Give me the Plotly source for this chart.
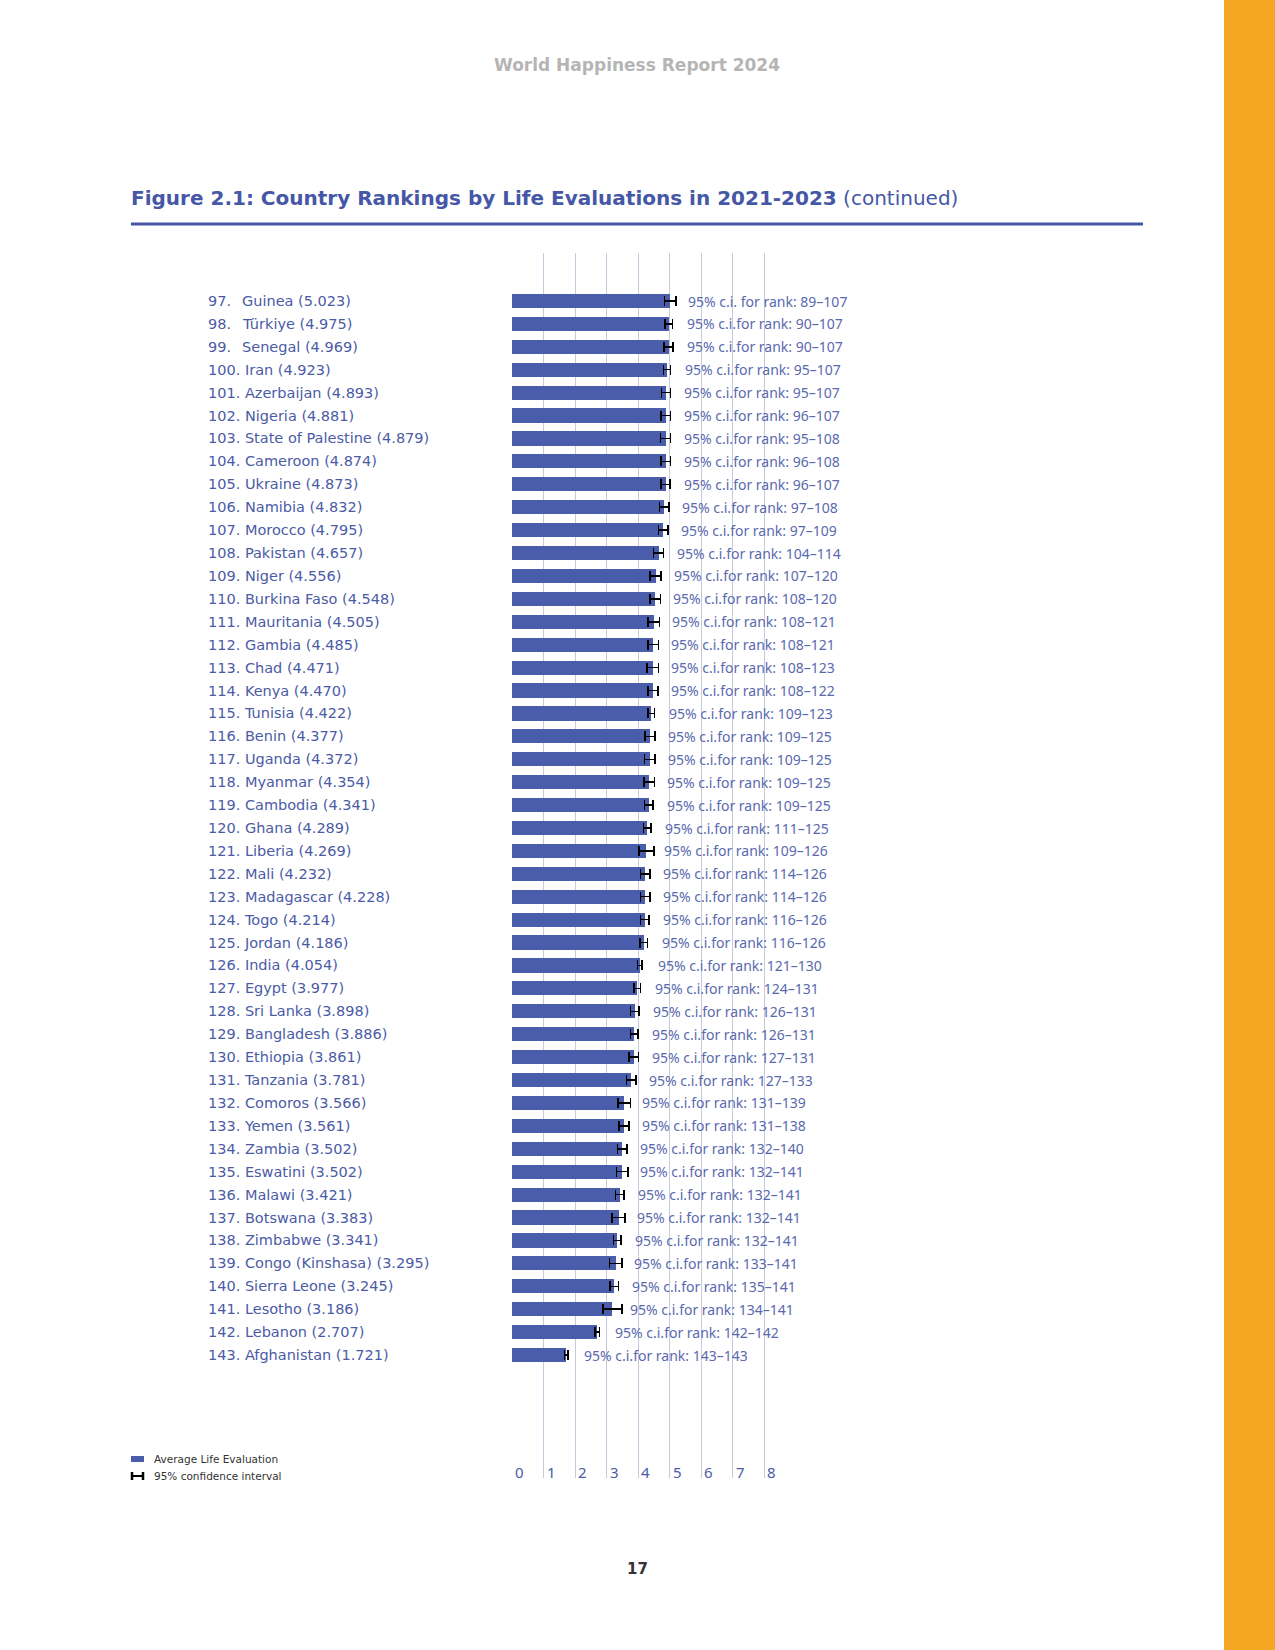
import plotly.graph_objects as go

ranks = list(range(97, 144))
countries = [
    "Guinea", "Türkiye", "Senegal", "Iran", "Azerbaijan", "Nigeria",
    "State of Palestine", "Cameroon", "Ukraine", "Namibia", "Morocco",
    "Pakistan", "Niger", "Burkina Faso", "Mauritania", "Gambia", "Chad",
    "Kenya", "Tunisia", "Benin", "Uganda", "Myanmar", "Cambodia", "Ghana",
    "Liberia", "Mali", "Madagascar", "Togo", "Jordan", "India", "Egypt",
    "Sri Lanka", "Bangladesh", "Ethiopia", "Tanzania", "Comoros", "Yemen",
    "Zambia", "Eswatini", "Malawi", "Botswana", "Zimbabwe",
    "Congo (Kinshasa)", "Sierra Leone", "Lesotho", "Lebanon", "Afghanistan",
]
scores = [
    5.023, 4.975, 4.969, 4.923, 4.893, 4.881, 4.879, 4.874, 4.873, 4.832,
    4.795, 4.657, 4.556, 4.548, 4.505, 4.485, 4.471, 4.470, 4.422, 4.377,
    4.372, 4.354, 4.341, 4.289, 4.269, 4.232, 4.228, 4.214, 4.186, 4.054,
    3.977, 3.898, 3.886, 3.861, 3.781, 3.566, 3.561, 3.502, 3.502, 3.421,
    3.383, 3.341, 3.295, 3.245, 3.186, 2.707, 1.721,
]
# half-width of the 95% confidence interval
ci_half = [
    0.18, 0.12, 0.14, 0.11, 0.14, 0.15, 0.16, 0.15, 0.14, 0.15,
    0.15, 0.16, 0.17, 0.16, 0.18, 0.16, 0.18, 0.16, 0.10, 0.16,
    0.16, 0.17, 0.13, 0.12, 0.24, 0.15, 0.15, 0.13, 0.12, 0.07,
    0.11, 0.14, 0.12, 0.15, 0.15, 0.20, 0.16, 0.15, 0.18, 0.14,
    0.21, 0.12, 0.20, 0.14, 0.30, 0.07, 0.055,
]
rank_low = [
    89, 90, 90, 95, 95, 96, 95, 96, 96, 97, 97, 104, 107, 108, 108, 108,
    108, 108, 109, 109, 109, 109, 109, 111, 109, 114, 114, 116, 116, 121,
    124, 126, 126, 127, 127, 131, 131, 132, 132, 132, 132, 132, 133, 135,
    134, 142, 143,
]
rank_high = [
    107, 107, 107, 107, 107, 107, 108, 108, 107, 108, 109, 114, 120, 120,
    121, 121, 123, 122, 123, 125, 125, 125, 125, 125, 126, 126, 126, 126,
    126, 130, 131, 131, 131, 131, 133, 139, 138, 140, 141, 141, 141, 141,
    141, 141, 141, 142, 143,
]
x_ticks = [0, 1, 2, 3, 4, 5, 6, 7, 8]

W, H = 1275, 1650
L, R = 512, 1275 - 512 - 315
T, B = 253, 1650 - 1478
PW, PH = W - L - R, H - T - B

BLUE = "#4A5DAA"
TXT = "#4B5BA6"
CI_TXT = "#5A69AE"
FONT = "DejaVu Sans"
FONT2 = "Noto Sans"


def px(xp):
    return (xp - L) / PW


def py(yp):
    return (H - B - yp) / PH


rows = list(range(len(countries)))
row_h = (1355 - 301) / (len(rows) - 1)
top_units = (301 - T) / row_h
span_units = PH / row_h

fig = go.Figure()
fig.add_trace(go.Bar(
    x=scores, y=rows, orientation="h", width=0.62,
    marker=dict(color=BLUE, line=dict(width=0)),
    error_x=dict(type="data", array=ci_half, visible=True,
                 color="black", thickness=1.5, width=5),
    hoverinfo="skip", showlegend=False,
))

lab_font = dict(family=FONT, size=14.5, color=TXT)
ann = []
for i in rows:
    label = f"{countries[i]} ({scores[i]:.3f})"
    if ranks[i] < 100:
        ann.append(dict(x=px(206), y=i, xref="paper", yref="y", xanchor="left",
                        yanchor="middle", showarrow=False, text=f"{ranks[i]}.",
                        font=lab_font))
        ann.append(dict(x=px(240), y=i, xref="paper", yref="y", xanchor="left",
                        yanchor="middle", showarrow=False, text=label,
                        font=lab_font))
    else:
        ann.append(dict(x=px(206), y=i, xref="paper", yref="y", xanchor="left",
                        yanchor="middle", showarrow=False,
                        text=f"{ranks[i]}. {label}", font=lab_font))
    sep = "c.i. for" if i == 0 else "c.i.for"
    ann.append(dict(x=scores[i], y=i, xref="x", yref="y", xanchor="left",
                    yanchor="middle", xshift=16, showarrow=False,
                    text=f"95% {sep} rank: {rank_low[i]}–{rank_high[i]}",
                    font=dict(family=FONT2, size=14, color=CI_TXT)))

for k in x_ticks:
    ann.append(dict(x=k, y=0, xref="x", yref="paper", xanchor="left",
                    yanchor="middle", xshift=1, yshift=6, showarrow=False,
                    text=str(k), font=dict(family=FONT2, size=15, color=TXT)))

ann.append(dict(x=px(637), y=py(65), xref="paper", yref="paper",
                xanchor="center", yanchor="middle", showarrow=False,
                text="<b>World Happiness Report 2024</b>",
                font=dict(family=FONT, size=17, color="#B5B5B5")))
ann.append(dict(x=px(129), y=py(198), xref="paper", yref="paper",
                xanchor="left", yanchor="middle", showarrow=False,
                text="<b>Figure 2.1: Country Rankings by Life Evaluations in 2021-2023</b> (continued)",
                font=dict(family=FONT, size=20, color="#4557A6")))
ann.append(dict(x=px(637), y=py(1569), xref="paper", yref="paper",
                xanchor="center", yanchor="middle", showarrow=False,
                text="<b>17</b>", font=dict(family=FONT, size=15, color="#333333")))
ann.append(dict(x=px(152), y=py(1459), xref="paper", yref="paper",
                xanchor="left", yanchor="middle", showarrow=False,
                text="Average Life Evaluation",
                font=dict(family=FONT, size=10.5, color="#333333")))
ann.append(dict(x=px(152), y=py(1476), xref="paper", yref="paper",
                xanchor="left", yanchor="middle", showarrow=False,
                text="95% confidence interval",
                font=dict(family=FONT, size=10.5, color="#333333")))

shapes = [
    dict(type="rect", xref="paper", yref="paper", x0=px(1224), x1=px(1276),
         y0=py(-1), y1=py(1651), fillcolor="#F5A623", line=dict(width=0)),
    dict(type="line", xref="paper", yref="paper", x0=px(131), x1=px(1143),
         y0=py(224), y1=py(224), line=dict(color="#4557A6", width=3)),
    dict(type="rect", xref="paper", yref="paper", x0=px(131), x1=px(144),
         y0=py(1456), y1=py(1462), fillcolor=BLUE, line=dict(width=0)),
    dict(type="line", xref="paper", yref="paper", x0=px(131), x1=px(144),
         y0=py(1476), y1=py(1476), line=dict(color="black", width=2)),
    dict(type="line", xref="paper", yref="paper", x0=px(132), x1=px(132),
         y0=py(1472), y1=py(1480), line=dict(color="black", width=2.5)),
    dict(type="line", xref="paper", yref="paper", x0=px(143), x1=px(143),
         y0=py(1472), y1=py(1480), line=dict(color="black", width=2.5)),
]

fig.update_layout(
    width=W, height=H,
    margin=dict(l=L, r=R, t=T, b=B),
    paper_bgcolor="white", plot_bgcolor="white",
    xaxis=dict(range=[0, PW / 31.5], tickvals=x_ticks, showticklabels=False,
               showgrid=True, gridcolor="#C7CADF", gridwidth=1,
               zeroline=False, showline=False, ticks=""),
    yaxis=dict(range=[span_units - top_units, -top_units], showgrid=False,
               showticklabels=False, zeroline=False, showline=False),
    annotations=ann,
    shapes=shapes,
    bargap=0,
)

# the page is photographed at exactly the figure size, so drop the body margin
fig.write_html("out.html", config={"displayModeBar": False},
               post_script="document.body.style.margin='0';")
